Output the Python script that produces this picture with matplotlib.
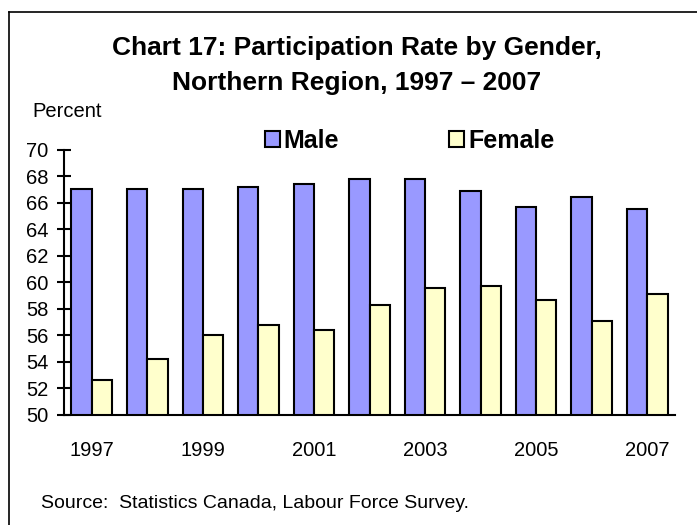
import numpy as np
import matplotlib.pyplot as plt
from matplotlib.patches import Patch
from matplotlib.lines import Line2D

plt.rcParams['font.family'] = ['Liberation Sans', 'DejaVu Sans']

years = [1997, 1998, 1999, 2000, 2001, 2002, 2003, 2004, 2005, 2006, 2007]
male = [67.0, 67.0, 67.0, 67.2, 67.4, 67.8, 67.8, 66.9, 65.7, 66.4, 65.5]
female = [52.6, 54.2, 56.0, 56.8, 56.4, 58.3, 59.6, 59.7, 58.7, 57.1, 59.1]
tick_years = [1997, 1999, 2001, 2003, 2005, 2007]

male_color = '#9999FF'
female_color = '#FFFFCC'

W, H = 697, 525
fig = plt.figure(figsize=(W / 100, H / 100), dpi=100)
ax = fig.add_axes([64 / W, 110 / H, 611 / W, 265.5 / H])

x = np.arange(len(years))
w = 0.365
ax.bar(x - w / 2, male, w, color=male_color, edgecolor='black', linewidth=1.5, zorder=2)
ax.bar(x + w / 2, female, w, color=female_color, edgecolor='black', linewidth=1.5, zorder=2)

ax.set_ylim(50, 70)
ax.set_xlim(-0.5, len(years) - 0.5)
ax.set_yticks(range(50, 71, 2))
ax.set_xticks([years.index(y) for y in tick_years])
ax.set_xticklabels([str(y) for y in tick_years])
ax.tick_params(axis='y', direction='inout', length=10, width=1.5, labelsize=14.5, pad=6)
ax.tick_params(axis='x', length=0, labelsize=14.5, pad=19)
for s in ['top', 'right']:
    ax.spines[s].set_visible(False)
ax.spines['left'].set_linewidth(1.5)
ax.spines['bottom'].set_linewidth(1.5)

# outer border, only its top and left edges are inside the picture
fig.add_artist(Line2D([9 / W, 9 / W], [0, 1 - 12 / H], color='black', linewidth=1.2))
fig.add_artist(Line2D([9 / W, 1], [1 - 12 / H, 1 - 12 / H], color='black', linewidth=1.2))

fig.text(357 / W, 1 - 55 / H, 'Chart 17: Participation Rate by Gender,', ha='center', va='baseline',
         fontsize=19, fontweight='bold')
fig.text(357 / W, 1 - 90 / H, 'Northern Region, 1997 \u2013 2007', ha='center', va='baseline',
         fontsize=19, fontweight='bold')
fig.text(32 / W, 1 - 117 / H, 'Percent', ha='left', va='baseline', fontsize=14.5)
fig.text(41 / W, 1 - 508 / H, 'Source:  Statistics Canada, Labour Force Survey.', ha='left', va='baseline',
         fontsize=14)

handles = [Patch(facecolor=male_color, edgecolor='black', linewidth=1.5, label='Male'),
           Patch(facecolor=female_color, edgecolor='black', linewidth=1.5, label='Female')]
fig.legend(handles=handles, ncol=2, frameon=False, loc='center left',
           bbox_to_anchor=(265 / W, 1 - 141 / H), prop={'weight': 'bold', 'size': 18},
           handlelength=0.6, handleheight=0.6, handletextpad=0.15, columnspacing=4.4,
           borderpad=0, borderaxespad=0)

fig.savefig('out.png', dpi=100)
